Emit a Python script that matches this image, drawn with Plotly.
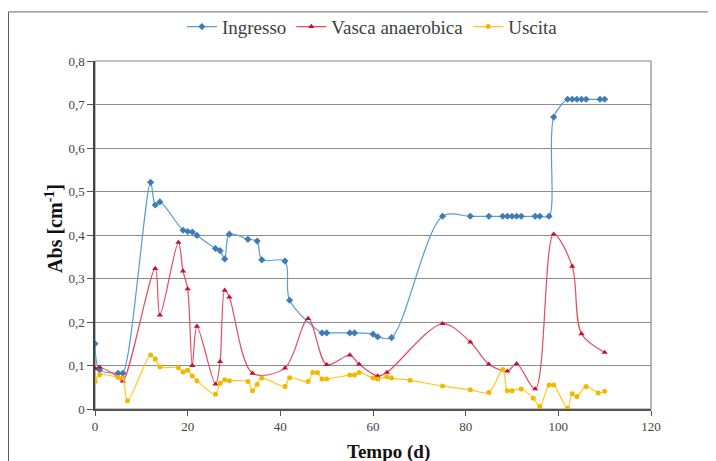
import plotly.graph_objects as go

# ---- data ----
ingresso_x = [0, 1, 5, 6, 12, 13, 14, 19, 20, 21, 22, 26, 27, 28, 29, 33, 35, 36, 41, 42,
              49, 50, 55, 56, 60, 61, 64, 75, 81, 85, 88, 89, 90, 91, 92, 95, 96, 98, 99,
              102, 103, 104, 105, 106, 109, 110]
ingresso_y = [0.15, 0.09, 0.082, 0.082, 0.521, 0.469, 0.476, 0.411, 0.408, 0.407, 0.399, 0.369, 0.364,
              0.345, 0.402, 0.39, 0.386, 0.343, 0.34, 0.25, 0.175, 0.175, 0.175, 0.175, 0.172,
              0.166, 0.164, 0.443, 0.443, 0.443, 0.443, 0.443, 0.443, 0.443, 0.443, 0.443,
              0.443, 0.443, 0.671, 0.712, 0.712, 0.712, 0.712, 0.712, 0.712, 0.712]

vasca_x = [0, 1, 5, 6, 13, 14, 18, 19, 20, 21, 22, 26, 27, 28, 29, 34, 41, 46, 50, 55, 57,
           61, 63, 75, 81, 85, 89, 91, 95, 99, 103, 105, 110]
vasca_y = [0.093, 0.096, 0.074, 0.064, 0.323, 0.216, 0.383, 0.317, 0.276, 0.1, 0.19, 0.057,
           0.109, 0.273, 0.257, 0.082, 0.094, 0.208, 0.102, 0.124, 0.103, 0.076, 0.084,
           0.196, 0.154, 0.103, 0.087, 0.104, 0.046, 0.402, 0.328, 0.173, 0.13]

uscita_x = [0, 1, 5, 6, 7, 12, 13, 14, 18, 19, 20, 21, 22, 26, 27, 28, 29, 33, 34, 35, 36,
            41, 42, 46, 47, 48, 49, 50, 55, 56, 57, 60, 61, 63, 64, 68, 75, 81, 85, 88,
            89, 90, 92, 94.6, 96, 98, 99, 102, 103, 104, 106, 108.6, 110]
uscita_y = [0.063, 0.079, 0.073, 0.071, 0.019, 0.124, 0.115, 0.097, 0.095, 0.085, 0.089,
            0.076, 0.065, 0.034, 0.059, 0.067, 0.065, 0.063, 0.042, 0.057, 0.071, 0.052,
            0.072, 0.063, 0.084, 0.084, 0.069, 0.069, 0.078, 0.078, 0.084, 0.071, 0.069,
            0.074, 0.071, 0.066, 0.053, 0.044, 0.038, 0.091, 0.042, 0.042, 0.046, 0.025,
            0.006, 0.055, 0.055, 0.002, 0.035, 0.029, 0.052, 0.037, 0.041]

y_tickvals = [0, 0.1, 0.2, 0.3, 0.4, 0.5, 0.6, 0.7, 0.8]
y_ticktext = ["0", "0,1", "0,2", "0,3", "0,4", "0,5", "0,6", "0,7", "0,8"]
x_tickvals = [0, 20, 40, 60, 80, 100, 120]
x_ticktext = ["0", "20", "40", "60", "80", "100", "120"]

SERIF = "Times New Roman"

fig = go.Figure()
fig.add_trace(go.Scatter(
    x=ingresso_x, y=ingresso_y, name="Ingresso", mode="lines+markers",
    line=dict(color="#5A9BD5", width=1.2, shape="spline", smoothing=0.9),
    marker=dict(symbol="diamond", size=5.5, color="#3E7CB8")))
fig.add_trace(go.Scatter(
    x=vasca_x, y=vasca_y, name="Vasca anaerobica", mode="lines+markers",
    line=dict(color="#E84A5F", width=1.2, shape="spline", smoothing=0.9),
    marker=dict(symbol="triangle-up", size=5.5, color="#C8102E")))
fig.add_trace(go.Scatter(
    x=uscita_x, y=uscita_y, name="Uscita", mode="lines+markers",
    line=dict(color="#FFC819", width=1.2, shape="spline", smoothing=0.9),
    marker=dict(symbol="circle", size=5, color="#F2B800")))

# outer chart frame (left + top) and plot-area border
fig.add_shape(type="line", xref="paper", yref="paper", x0=-0.1565, x1=-0.1565, y0=1.141, y1=-0.2,
              line=dict(color="#222222", width=1.5))
fig.add_shape(type="line", xref="paper", yref="paper", x0=-0.1565, x1=1.2, y0=1.141, y1=1.141,
              line=dict(color="#888888", width=1.2))
fig.add_shape(type="rect", xref="paper", yref="paper", x0=0, x1=1, y0=0, y1=1,
              line=dict(color="#8a8a8a", width=1.2), layer="below")

# axis titles
fig.add_annotation(text="<b>Tempo (d)</b>", xref="paper", yref="paper", x=0.527, y=-0.124,
                   xanchor="center", yanchor="middle", showarrow=False,
                   font=dict(family=SERIF, size=19, color="#111111"))
fig.add_annotation(text="<b>Abs [cm<sup>-1</sup>]</b>", xref="paper", yref="paper", x=-0.074, y=0.52,
                   xanchor="center", yanchor="middle", showarrow=False, textangle=-90,
                   font=dict(family=SERIF, size=20, color="#111111"))

# the page body adds an 8px offset, so the figure is 8px smaller on each axis
fig.update_layout(
    width=708, height=453,
    margin=dict(l=87, r=65, t=53, b=52, autoexpand=False),
    paper_bgcolor="white", plot_bgcolor="white",
    font=dict(family=SERIF, color="#333333"),
    showlegend=True,
    legend=dict(orientation="h", x=0.499, xanchor="center", y=1.153, yanchor="top",
                font=dict(family=SERIF, size=19, color="#404040"),
                itemwidth=30, tracegroupgap=0, bgcolor="rgba(0,0,0,0)"),
    xaxis=dict(range=[0, 120], tickvals=x_tickvals, ticktext=x_ticktext,
               showgrid=False, zeroline=False, showline=True, linecolor="#555555", linewidth=1.5,
               ticks="outside", ticklen=5, tickcolor="#555555",
               tickfont=dict(family=SERIF, size=13, color="#444444")),
    yaxis=dict(range=[0, 0.8], tickvals=y_tickvals, ticktext=y_ticktext,
               showgrid=True, gridcolor="#8c8c8c", gridwidth=1.2, zeroline=False,
               showline=True, linecolor="#444444", linewidth=1.5,
               ticks="outside", ticklen=6, tickcolor="#555555",
               tickfont=dict(family=SERIF, size=13, color="#444444")),
)

fig.write_html("out.html")
